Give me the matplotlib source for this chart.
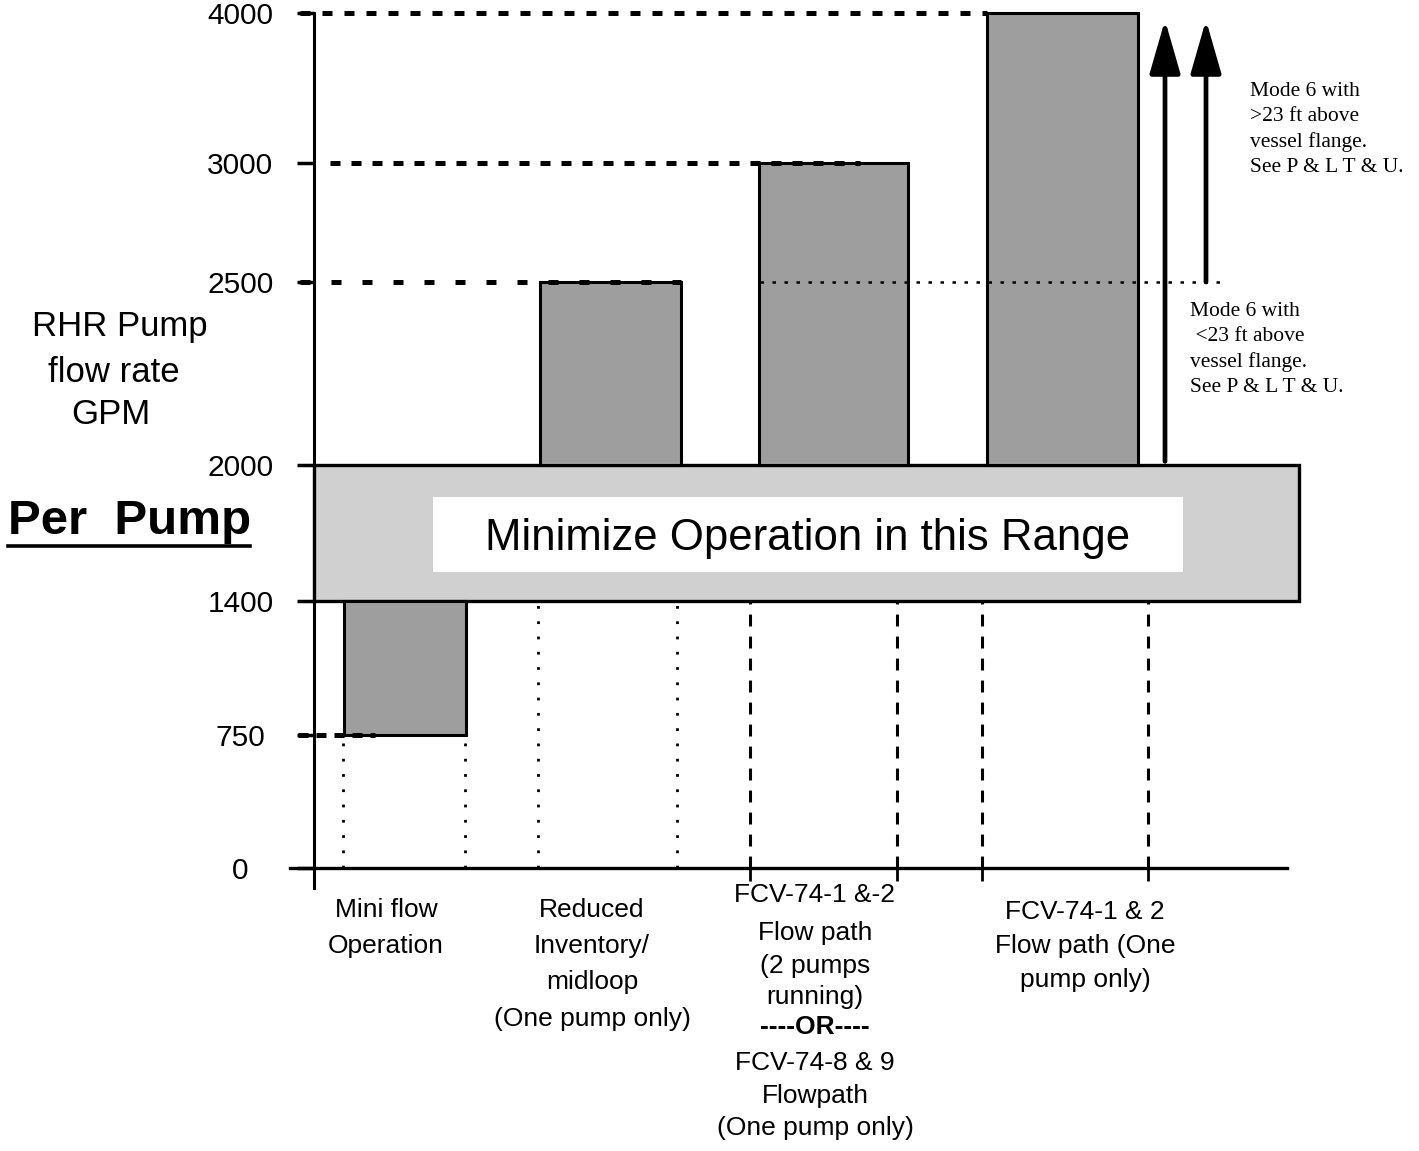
import matplotlib
matplotlib.use("Agg")
import matplotlib.pyplot as plt
import numpy as np
from matplotlib.lines import Line2D

plt.rcParams['font.family'] = ['Liberation Sans', 'DejaVu Sans']

# ---- data ----
categories = ["Mini flow Operation", "Reduced Inventory/midloop",
              "FCV-74-1 &-2 / FCV-74-8 & 9", "FCV-74-1 & 2 (One pump only)"]
bar_low = [750, 2000, 2000, 2000]      # GPM
bar_high = [1400, 2500, 3000, 4000]    # GPM
y_ticks = [0, 750, 1400, 2000, 2500, 3000, 4000]
band_low, band_high = 1400, 2000       # "minimize operation" range
mode6_split = 2500                     # <23 ft / >23 ft

cat_lines = [
    ["Mini flow", "Operation"],
    ["Reduced", "Inventory/", "midloop", "(One pump only)"],
    ["FCV-74-1 &-2", "Flow path", "(2 pumps", "running)", "----OR----",
     "FCV-74-8 & 9", "Flowpath", "(One pump only)"],
    ["FCV-74-1 & 2", "Flow path (One", "pump only)"],
]

# ---- layout (pixel-ish units) ----
W, H = 1419, 1151
bar_left = [30, 226, 445, 673]
bar_width = [122, 141, 149, 151]

# non-linear y axis of the original drawing
knot_vals = [-150, 0, 750, 1400, 2000, 2500, 3000, 4000]
knot_pos = [-20, 0, 133, 267, 403, 586, 705, 855]


def fwd(v):
    return np.interp(v, knot_vals, knot_pos)


def inv(p):
    return np.interp(p, knot_pos, knot_vals)


def fp(x, y):
    return x / W, 1 - y / H


fig = plt.figure(figsize=(W / 100, H / 100), dpi=100)
ax = fig.add_axes([290 / W, 1 - 888 / H, 997 / W, 875 / H])
ax.set_yscale('function', functions=(fwd, inv))
ax.set_xlim(-24, 973)
ax.set_ylim(-150, 4000)

for s in ['top', 'right']:
    ax.spines[s].set_visible(False)
ax.spines['left'].set_position(('data', 0))
ax.spines['bottom'].set_position(('data', 0))
ax.spines['left'].set_linewidth(2.2)
ax.spines['bottom'].set_linewidth(2.4)

ax.set_yticks(y_ticks)
ax.set_yticklabels([str(v) for v in y_ticks])
ax.tick_params(axis='y', direction='out', length=12, width=2.5, pad=41, labelsize=21.5)
for lab in ax.get_yticklabels():
    lab.set_horizontalalignment('center')
ax.set_xticks([436, 583, 668, 834])
ax.set_xticklabels([])
ax.tick_params(axis='x', direction='out', length=9, width=2)

# band
ax.bar(0, band_high - band_low, bottom=band_low, width=985, align='edge',
       color='#d0d0d0', edgecolor='black', linewidth=2.4, zorder=3, clip_on=False)
ax.bar(119, 330, bottom=1530, width=750, align='edge', color='white',
       linewidth=0, zorder=4)
ax.text(494, 1676, "Minimize Operation in this Range", ha='center', va='center',
        fontsize=31.5, zorder=5)

# bars
ax.bar(bar_left, np.array(bar_high) - np.array(bar_low), bottom=bar_low,
       width=bar_width, align='edge', color='#9e9e9e', edgecolor='black',
       linewidth=2.2, zorder=3, clip_on=False)

# heavy dashed reference lines
ax.plot([-14, bar_left[3]], [bar_high[3]] * 2, color='black', lw=3.6,
        dashes=(2, 2.4), clip_on=False, zorder=6)
ax.plot([16, 546], [bar_high[2]] * 2, color='black', lw=3.6,
        dashes=(2, 2.2), clip_on=False, zorder=6)
ax.plot([-14, bar_left[1] + bar_width[1]], [bar_high[1]] * 2, color='black',
        lw=3.6, dashes=(2, 4.2), clip_on=False, zorder=6)
ax.plot([-16, 61], [bar_low[0]] * 2, color='black', lw=3.6,
        dashes=(2, 1.6), clip_on=False, zorder=6)
# fine dotted line at mode split
ax.plot([446, 911], [mode6_split] * 2, color='black', lw=1.8,
        dashes=(1.4, 3.4), zorder=6)

# vertical guides
for x in [29, 151]:
    ax.plot([x, x], [0, bar_low[0]], color='black', lw=2, dashes=(1, 4.5), zorder=2)
for x in [224, 363]:
    ax.plot([x, x], [0, band_low], color='black', lw=2, dashes=(1, 4.5), zorder=2)
for x in [436, 583, 668, 834]:
    ax.plot([x, x], [0, band_low], color='black', lw=2.2, dashes=(3.9, 3.3), zorder=2)

# arrows
for x, y0 in [(851, 2010), (892, mode6_split)]:
    ax.annotate('', xy=(x, 3953), xytext=(x, y0),
                arrowprops=dict(arrowstyle='-|>,head_length=3.3,head_width=0.95',
                                mutation_scale=10, lw=3.4, color='black',
                                shrinkA=0, shrinkB=0), zorder=6)

# mode 6 notes
fig.text(*fp(1250, 82), "Mode 6 with\n>23 ft above\nvessel flange.\nSee P & L T & U.",
         family='Liberation Serif', fontsize=15.5, ha='left', va='top', linespacing=1.42)
fig.text(*fp(1190, 302), "Mode 6 with\n <23 ft above\nvessel flange.\nSee P & L T & U.",
         family='Liberation Serif', fontsize=15.5, ha='left', va='top', linespacing=1.42)

# y axis title
fig.text(*fp(120, 327), "RHR Pump", ha='center', va='center', fontsize=25)
fig.text(*fp(114, 372), "flow rate", ha='center', va='center', fontsize=25)
fig.text(*fp(111, 414), "GPM", ha='center', va='center', fontsize=25)
fig.text(*fp(130, 521), "Per  Pump", ha='center', va='center', fontsize=35.5,
         fontweight='bold')
fig.add_artist(Line2D([8 / W, 250 / W], [1 - 546 / H] * 2, color='black', lw=2.6))

# category labels
cat_x = [386, 592, 815, 1085]
cat_y = [[910, 946],
         [910, 946, 982, 1019],
         [895, 933, 966, 997, 1027, 1063, 1096, 1128],
         [912, 946, 980]]
for cx, lines, ys in zip(cat_x, cat_lines, cat_y):
    for txt, yy in zip(lines, ys):
        bold = txt.startswith('----')
        fig.text(*fp(cx, yy), txt, ha='center', va='center', fontsize=19,
                 fontweight='bold' if bold else 'normal')

fig.savefig('out.png', dpi=100)
